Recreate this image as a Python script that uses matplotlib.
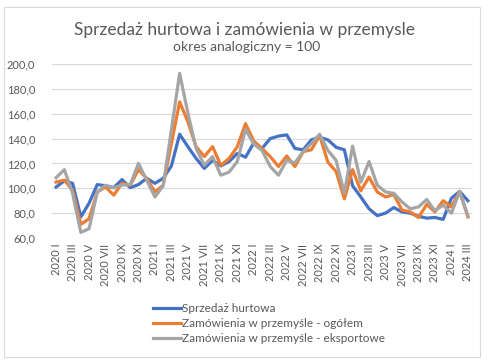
import matplotlib
matplotlib.use("Agg")

import matplotlib.pyplot as plt
from matplotlib.patches import Rectangle

years = [2020, 2021, 2022, 2023, 2024]
months = ["I", "II", "III", "IV", "V", "VI", "VII", "VIII", "IX", "X", "XI", "XII"]
periods = [f"{y} {m}" for y in years for m in months][:51]

hurtowa = [101, 106, 104, 77, 88, 103, 102, 100.5, 107, 100.5, 103, 108,
           104, 108, 118, 143.5, 133.5, 124, 116, 122.5, 118, 121.5, 128, 125,
           136.5, 132, 140, 142, 143, 132, 131, 139, 141, 139, 133, 131,
           102, 93, 83.5, 78, 80, 84.5, 81, 80, 77.5, 76, 76.5, 75,
           92, 97.5, 90]
ogolem = [105, 106.5, 98.5, 71, 75.5, 97, 101, 94.5, 104, 102.5, 115, 108,
          97, 102.5, 136, 169.5, 153.5, 133.5, 125.5, 133.5, 118.5, 124, 133.5, 152,
          138, 132, 125.5, 117.5, 126, 117.5, 129.5, 131, 142.5, 121, 113.5, 91.5,
          115, 98, 109, 97, 93, 95, 82.5, 81, 76.5, 87, 81, 90,
          85, 97.5, 77]
eksport = [108.5, 115, 96, 64.5, 67.5, 97, 102.5, 100.5, 102.5, 103, 120, 106.5,
           93, 102, 147, 192.5, 160.5, 132, 118.5, 125.5, 110.5, 113, 121.5, 147.5,
           135.5, 130.5, 117.5, 110.5, 122.5, 120.5, 129.5, 136, 143.5, 130.5, 122.5, 96,
           134, 105, 121.5, 102.5, 97, 96, 89, 83.5, 85, 91, 82, 86.5,
           80, 97.5, 78]

series = [
    ("Sprzedaż hurtowa", hurtowa, "#4472C4"),
    ("Zamówienia w przemyśle - ogółem", ogolem, "#ED7D31"),
    ("Zamówienia w przemyśle - eksportowe", eksport, "#A5A5A5"),
]

plt.rcParams["font.family"] = ["Lato", "DejaVu Sans"]
text_color = "#595959"

W, H = 493, 363
fig = plt.figure(figsize=(W / 100, H / 100), dpi=100)
ax = fig.add_axes([52 / W, 1 - 238 / H, 420 / W, 174 / H])

x = list(range(len(periods)))
for label, values, color in series:
    ax.plot(x, values, color=color, linewidth=2.3, label=label, solid_joinstyle="round")

ax.set_xlim(-0.5, len(periods) - 0.5)
ax.set_ylim(60, 200)
ax.set_yticks(range(60, 201, 20))
ax.set_yticklabels([f"{v},0" for v in range(60, 201, 20)], fontsize=8, color=text_color)
ax.set_xticks(x[::2])
ax.set_xticklabels(periods[::2], rotation=90, fontsize=8, color=text_color)
ax.tick_params(length=0, pad=4)
ax.tick_params(axis="y", pad=12)
ax.grid(axis="y", color="#D9D9D9", linewidth=0.8)
ax.set_axisbelow(True)
for s in ax.spines.values():
    s.set_visible(False)

fig.text(245 / W, 1 - 30 / H, "Sprzedaż hurtowa i zamówienia w przemysle",
         ha="center", va="center", fontsize=12.5, color=text_color)
fig.text(247 / W, 1 - 47 / H, "okres analogiczny = 100",
         ha="center", va="center", fontsize=10, color=text_color)

fig.legend(loc="upper left", bbox_to_anchor=(148 / W, 1 - 298 / H), frameon=False,
           fontsize=8.5, handlelength=2.4, handletextpad=0.1, labelspacing=0.35,
           borderaxespad=0, labelcolor=text_color)

fig.patches.append(Rectangle((4 / W, 1 - 357 / H), 476 / W, 350 / H, transform=fig.transFigure,
                             fill=False, edgecolor="#D9D9D9", linewidth=0.8))

fig.savefig("out.png", dpi=100)
plt.close(fig)
